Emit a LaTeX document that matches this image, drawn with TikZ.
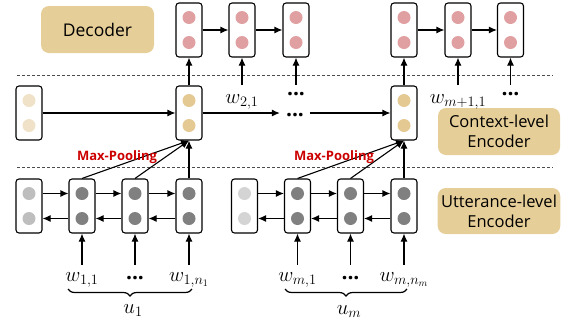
\documentclass[tikz,border=0pt]{standalone}
\usepackage[no-math]{fontspec}
\setmainfont{Open Sans}
\usetikzlibrary{arrows.meta,decorations.pathreplacing}
\definecolor{boxtan}{RGB}{230,206,152}
\definecolor{decpink}{RGB}{224,160,162}
\definecolor{ctxtan}{RGB}{228,201,147}
\definecolor{ctxlight}{RGB}{240,226,200}
\definecolor{grdark}{RGB}{128,128,128}
\definecolor{grlight}{RGB}{190,190,190}
\definecolor{grpale}{RGB}{212,212,212}
\definecolor{poolred}{RGB}{204,0,0}
\begin{document}
\begin{tikzpicture}
			[x=1pt,y=-1pt,
			cell/.style={draw,rounded corners=3pt,line width=1.1pt,minimum width=26pt,minimum height=54pt,inner sep=0pt},
			dot/.style={circle,minimum size=13pt,inner sep=0pt},
			tag/.style={fill=boxtan,rounded corners=8pt,align=center,font=\fontsize{16.5}{20}\selectfont},
			word/.style={inner sep=0pt,anchor=base,font=\fontsize{20}{22}\selectfont},
			more/.style={inner sep=0pt,anchor=base,font=\fontsize{21}{22}\selectfont\bfseries},
			pool/.style={text=poolred,inner sep=0pt,font=\fontsize{13}{15}\selectfont\bfseries},
			sep/.style={dash pattern=on 3pt off 2pt,line width=0.8pt,black!70},
			link/.style={->,line width=1.1pt},
			>={Latex[length=8pt,width=7pt]}]
			\useasboundingbox (0,0) rectangle (563,325);
			\node[tag,minimum width=113pt,minimum height=47pt,font=\fontsize{17.5}{20}\selectfont] (dec) at (97.5,29.5) {Decoder};
			\node[tag,minimum width=122pt,minimum height=47pt] (ctx) at (499,131.5) {Context-level\\Encoder};
			\node[tag,minimum width=122pt,minimum height=46pt] (utt) at (499,211) {Utterance-level\\Encoder};
			\draw[sep] (17,75) -- (553,75);
			\draw[sep] (17,167) -- (553,167);
			\node[cell] (d1) at (189,30) {};
			\node[cell] (d2) at (242,30) {};
			\node[cell] (d3) at (296,30) {};
			\node[cell] (d4) at (404,30) {};
			\node[cell] (d5) at (458,30) {};
			\node[cell] (d6) at (510.5,30) {};
			\node[cell] (h0) at (29,113) {};
			\node[cell] (h1) at (189,113) {};
			\node[cell] (h2) at (404,113) {};
			\node[cell] (e11) at (29,206) {};
			\node[cell] (e12) at (82,206) {};
			\node[cell] (e13) at (135,206) {};
			\node[cell] (e14) at (189,206) {};
			\node[cell] (e21) at (244.5,206) {};
			\node[cell] (e22) at (297.5,206) {};
			\node[cell] (e23) at (350.5,206) {};
			\node[cell] (e24) at (404,206) {};
			\foreach \c/\col in {d1/decpink,d2/decpink,d3/decpink,d4/decpink,d5/decpink,d6/decpink,
				h0/ctxlight,h1/ctxtan,h2/ctxtan,
				e11/grlight,e12/grdark,e13/grdark,e14/grdark,e21/grpale,e22/grdark,e23/grdark,e24/grdark}
			{
				\node[dot,fill=\col] at ([yshift=12.5pt]\c.center) {};
				\node[dot,fill=\col] at ([yshift=-12.5pt]\c.center) {};
			}
			\foreach \a/\b in {d1/d2,d2/d3,d4/d5,d5/d6,h0/h1}
				\draw[link] (\a) -- (\b);
			\foreach \a/\b in {e11/e12,e12/e13,e13/e14,e21/e22,e22/e23,e23/e24}
			{
				\draw[link] ([yshift=12.5pt]\a.east) -- ([yshift=12.5pt]\b.west);
				\draw[link] ([yshift=-12.5pt]\b.west) -- ([yshift=-12.5pt]\a.east);
			}
			\node[more,inner xsep=6pt] (hdots) at (295,116) {...};
			\draw[link] (h1.east) -- (h1.east -| hdots.west);
			\draw[link] (h2.west -| hdots.east) -- (h2.west);
			\draw[link] (h1) -- (d1);
			\draw[link] (h2) -- (d4);
			\node[word,text height=18pt] (t21) at (242,103) {$w_{2,1}$};
			\node[more,text height=10pt] (tdots) at (296,95) {...};
			\node[word,text height=18pt] (tm1) at (458,103) {$w_{m+1,1}$};
			\node[more,text height=10pt] (tmdots) at (510.5,95) {...};
			\foreach \l/\c in {t21/d2,tdots/d3,tm1/d5,tmdots/d6}
				\draw[link] (\l.north) -- (\c.south);
			\node[word,text height=16pt] (w11) at (82,281) {$w_{1,1}$};
			\node[more,text height=14pt] (w1d) at (135,279) {...};
			\node[word,text height=16pt] (w1n) at (189,281) {$w_{1,n_1}$};
			\node[word,text height=16pt] (wm1) at (297.5,281) {$w_{m,1}$};
			\node[more,text height=14pt] (wmd) at (350.5,279) {...};
			\node[word,text height=16pt] (wmn) at (404,281) {$w_{m,n_m}$};
			\foreach \l/\c in {w11/e12,w1d/e13,w1n/e14,wm1/e22,wmd/e23,wmn/e24}
				\draw[link] (\l.north) -- (\c.south);
			\foreach \s in {e12,e13,e14}
				\draw[link] (\s.north) -- (h1.south);
			\foreach \s in {e22,e23,e24}
				\draw[link] (\s.north) -- (h2.south);
			\node[pool] (mp1) at (117,157) {Max-Pooling};
			\node[pool] (mp2) at (334,157) {Max-Pooling};
			\draw[line width=1.2pt,decorate,decoration={brace,mirror,amplitude=7pt}] (68,289) -- (192,289);
			\draw[line width=1.2pt,decorate,decoration={brace,mirror,amplitude=7pt}] (285,289) -- (407,289);
			\node[word] (u1) at (133,313) {$u_1$};
			\node[word] (um) at (349,314) {$u_m$};
		\end{tikzpicture}
\end{document}
